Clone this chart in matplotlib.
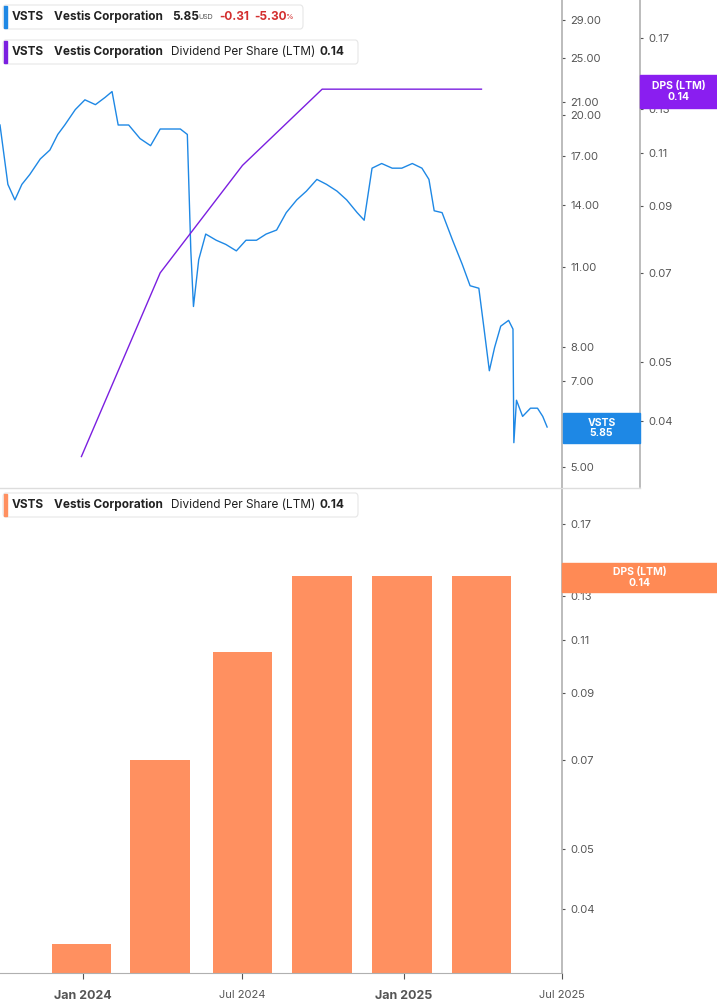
import matplotlib.pyplot as plt
from matplotlib.patches import Rectangle, FancyBboxPatch
from matplotlib.ticker import FixedLocator, NullLocator
import pandas as pd

plt.rcParams['font.family'] = 'Inter'

price_dates = ['2023-09-28', '2023-10-07', '2023-10-15', '2023-10-23', '2023-11-01', '2023-11-13',
               '2023-11-24', '2023-12-03', '2023-12-11', '2023-12-23', '2024-01-03', '2024-01-15',
               '2024-01-26', '2024-02-03', '2024-02-10', '2024-02-22', '2024-03-06', '2024-03-18',
               '2024-03-29', '2024-04-10', '2024-04-21', '2024-04-29', '2024-05-03', '2024-05-06',
               '2024-05-12', '2024-05-20', '2024-06-01', '2024-06-12', '2024-06-24', '2024-07-05',
               '2024-07-17', '2024-07-28', '2024-08-09', '2024-08-20', '2024-09-01', '2024-09-12',
               '2024-09-24', '2024-10-05', '2024-10-17', '2024-10-28', '2024-11-09', '2024-11-17',
               '2024-11-26', '2024-12-07', '2024-12-19', '2024-12-30', '2025-01-11', '2025-01-22',
               '2025-01-30', '2025-02-05', '2025-02-14', '2025-02-26', '2025-03-09', '2025-03-18',
               '2025-03-28', '2025-04-03', '2025-04-09', '2025-04-15', '2025-04-22', '2025-05-01',
               '2025-05-06', '2025-05-07', '2025-05-10', '2025-05-17', '2025-05-26', '2025-06-03',
               '2025-06-09', '2025-06-14']
prices = [19.2, 15.2, 14.3, 15.2, 15.8, 16.8, 17.4, 18.5, 19.2, 20.4, 21.2, 20.8,
          21.4, 21.9, 19.2, 19.2, 18.2, 17.7, 18.9, 18.9, 18.9, 18.5, 11.7, 9.4,
          11.3, 12.5, 12.2, 12.0, 11.7, 12.2, 12.2, 12.5, 12.7, 13.6, 14.3, 14.8,
          15.5, 15.2, 14.8, 14.3, 13.6, 13.2, 16.2, 16.5, 16.2, 16.2, 16.5, 16.2,
          15.5, 13.7, 13.6, 12.2, 11.1, 10.2, 10.1, 8.6, 7.3, 8.0, 8.7, 8.9,
          8.6, 5.5, 6.5, 6.1, 6.3, 6.3, 6.1, 5.85]

dps_dates = ['2023-12-30', '2024-03-29', '2024-07-01', '2024-09-30', '2024-12-30', '2025-03-31']
dps = [0.035, 0.070, 0.105, 0.14, 0.14, 0.14]

price_ticks = [5, 7, 8, 11, 14, 17, 20, 21, 25, 29]
dps_ticks = [0.04, 0.05, 0.07, 0.09, 0.11, 0.13, 0.17]
x_ticks = ['2024-01-01', '2024-07-01', '2025-01-01', '2025-07-01']
x_labels = ['Jan 2024', 'Jul 2024', 'Jan 2025', 'Jul 2025']

pd_dates = pd.to_datetime(price_dates)
dd = pd.to_datetime(dps_dates)
xt = pd.to_datetime(x_ticks)
xmin, xmax = pd.Timestamp('2023-09-28'), pd.Timestamp('2025-07-01')

grey = '#555555'
spine = '#b0b0b0'
fig = plt.figure(figsize=(7.17, 10.05), dpi=100)
W, H = 717, 1005

def style_right(ax, ticks, fmt):
    for s in ['top', 'left', 'bottom']:
        ax.spines[s].set_visible(False)
    ax.spines['right'].set_color(spine)
    ax.spines['right'].set_linewidth(1.2)
    ax.yaxis.tick_right()
    ax.yaxis.set_major_locator(FixedLocator(ticks))
    ax.yaxis.set_minor_locator(NullLocator())
    ax.set_yticklabels([fmt % t for t in ticks])
    ax.tick_params(axis='y', colors=grey, labelsize=8, length=2, pad=4)

# top panel
ax = fig.add_axes([0, 1 - 487 / H, 562 / W, 487 / H])
ax.set_yscale('log')
ax.plot(pd_dates, prices, color='#1e88e5', lw=1.0)
ax.set_ylim(4.62, 31.4)
ax.set_xlim(xmin, xmax)
ax.set_xticks([])

ax2 = ax.twinx()
ax2.set_yscale('log')
ax2.plot(dd, dps, color='#7b1fe0', lw=1.0)
ax2.set_ylim(0.0312, 0.196)
ax2.spines['right'].set_position(('axes', 640 / 562))
style_right(ax2, dps_ticks, '%.2f')
ax2.set_xlim(xmin, xmax)
style_right(ax, price_ticks, '%.2f')

# bottom panel
base = 0.0314
bx = fig.add_axes([0, 1 - 973 / H, 562 / W, 485 / H])
bx.set_yscale('log')
bx.bar(dd, [v - base for v in dps], width=68, color='#ff9060', bottom=base)
bx.set_ylim(base, 0.195)
bx.set_xlim(xmin, xmax)
style_right(bx, dps_ticks, '%.2f')
bx.spines['bottom'].set_visible(True)
bx.spines['bottom'].set_color(spine)
bx.set_xticks(xt)
bx.set_xticklabels(x_labels)
bx.tick_params(axis='x', colors=grey, labelsize=8, length=4, pad=8)
for i, lab in enumerate(bx.get_xticklabels()):
    if x_labels[i].startswith('Jan'):
        lab.set_fontweight('bold')
        lab.set_fontsize(9)

fig.add_artist(plt.Line2D([0, 640 / W], [1 - 488 / H] * 2, color='#dddddd', lw=1))

# legends
def legend(y, color, width, parts):
    fig.patches.append(FancyBboxPatch((3 / W, 1 - (y + 12) / H), width / W, 24 / H,
                                      boxstyle='round,pad=0,rounding_size=0.004',
                                      transform=fig.transFigure, fc='white', ec='#e6e6e6', lw=0.8))
    fig.patches.append(Rectangle((4 / W, 1 - (y + 11) / H), 3 / W, 22 / H,
                                 transform=fig.transFigure, color=color))
    x = 12
    for txt, col, wt, sz, dx in parts:
        fig.text(x / W, 1 - y / H, txt, color=col, fontweight=wt, fontsize=sz, va='center')
        x += dx

legend(17, '#1e88e5', 300, [('VSTS', '#222', 'bold', 8.5, 42), ('Vestis Corporation', '#222', 'bold', 8.5, 118),
                            ('5.85', '#222', 'bold', 8.5, 26), ('USD', '#555', 'normal', 5, 21),
                            ('-0.31', '#d32f2f', 'bold', 8.5, 35), ('-5.30', '#d32f2f', 'bold', 8.5, 31),
                            ('%', '#d32f2f', 'normal', 5.5, 0)])
for yy, c in [(52, '#7b1fe0'), (505, '#ff9060')]:
    legend(yy, c, 355, [('VSTS', '#222', 'bold', 8.5, 42), ('Vestis Corporation', '#222', 'bold', 8.5, 117),
                        ('Dividend Per Share (LTM)', '#222', 'normal', 8.5, 149), ('0.14', '#222', 'bold', 8.5, 0)])

# price tags
def tag(x0, y0, w, h, color, lines):
    fig.patches.append(Rectangle((x0 / W, 1 - (y0 + h) / H), w / W, h / H,
                                 transform=fig.transFigure, color=color, zorder=5))
    fig.text((x0 + w / 2) / W, 1 - (y0 + h / 2) / H, lines, color='white', fontsize=7.5,
             fontweight='bold', ha='center', va='center', linespacing=1.0, zorder=6)

tag(563, 413, 77, 30, '#1e88e5', 'VSTS\n5.85')
tag(640, 75, 77, 33, '#8a1ef0', 'DPS (LTM)\n0.14')
tag(562, 563, 155, 29, '#ff8a55', 'DPS (LTM)\n0.14')

fig.savefig('out.png', dpi=100)
